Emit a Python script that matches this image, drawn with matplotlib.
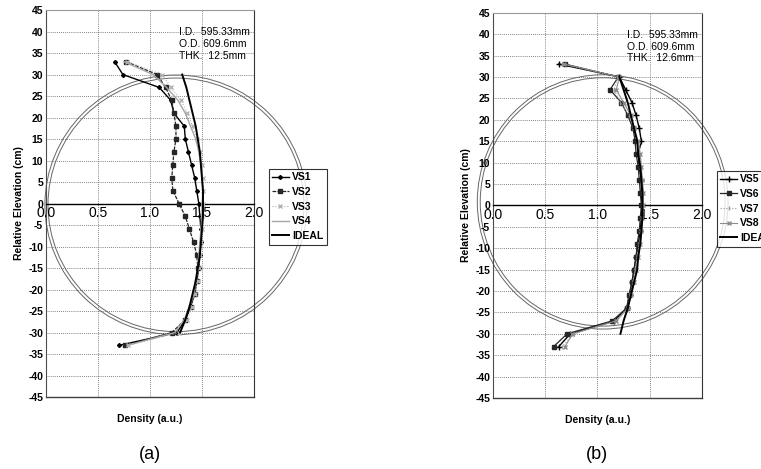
import numpy as np
import matplotlib.pyplot as plt
from matplotlib.patches import Ellipse

plt.rcParams['font.family'] = ['Liberation Sans', 'DejaVu Sans']

# elevations (cm) of the measured points, top to bottom
elev = [33, 30, 27, 24, 21, 18, 15, 12, 9, 6, 3, 0, -3, -6, -9, -12, -15, -18, -21, -24, -27, -30, -33]
elevIdeal = [30, 27, 24, 21, 18, 15, 12, 9, 6, 3, 0, -3, -6, -9, -12, -15, -18, -21, -24, -27, -30]

# panel (a)
vs1 = [0.66, 0.74, 1.09, 1.20, 1.23, 1.33, 1.34, 1.37, 1.40, 1.43, 1.45, 1.47, 1.48, 1.49, 1.49, 1.48, 1.47, 1.45, 1.43, 1.39, 1.34, 1.26, 0.70]
vs2 = [0.77, 1.07, 1.15, 1.21, 1.23, 1.25, 1.25, 1.23, 1.22, 1.21, 1.22, 1.28, 1.34, 1.38, 1.42, 1.45, 1.46, 1.45, 1.43, 1.39, 1.34, 1.21, 0.76]
vs3 = [0.78, 1.12, 1.20, 1.30, 1.36, 1.41, 1.45, 1.48, 1.50, 1.51, 1.51, 1.51, 1.50, 1.50, 1.49, 1.48, 1.47, 1.46, 1.43, 1.40, 1.36, 1.28, 0.79]
vs4 = [0.75, 1.03, 1.16, 1.27, 1.34, 1.39, 1.44, 1.47, 1.49, 1.50, 1.51, 1.50, 1.50, 1.49, 1.48, 1.47, 1.46, 1.44, 1.42, 1.38, 1.33, 1.24, 0.78]
idealA = [1.31, 1.35, 1.38, 1.41, 1.44, 1.46, 1.48, 1.49, 1.50, 1.51, 1.51, 1.51, 1.50, 1.49, 1.48, 1.46, 1.44, 1.41, 1.38, 1.34, 1.29]

# panel (b)
vs5 = [0.63, 1.21, 1.27, 1.33, 1.37, 1.40, 1.42, 1.39, 1.40, 1.42, 1.42, 1.43, 1.42, 1.41, 1.39, 1.37, 1.35, 1.33, 1.31, 1.28, 1.16, 0.74, 0.63]
vs6 = [0.69, 1.20, 1.12, 1.23, 1.29, 1.34, 1.36, 1.37, 1.39, 1.40, 1.41, 1.42, 1.41, 1.40, 1.38, 1.37, 1.35, 1.33, 1.30, 1.28, 1.14, 0.71, 0.58]
vs7 = [0.66, 1.19, 1.16, 1.22, 1.30, 1.36, 1.38, 1.40, 1.41, 1.43, 1.43, 1.44, 1.43, 1.42, 1.40, 1.38, 1.36, 1.34, 1.31, 1.29, 1.17, 0.78, 0.66]
vs8 = [0.68, 1.21, 1.18, 1.25, 1.32, 1.35, 1.39, 1.41, 1.42, 1.43, 1.44, 1.44, 1.43, 1.42, 1.41, 1.39, 1.37, 1.35, 1.32, 1.29, 1.18, 0.76, 0.69]
idealB = [1.21, 1.25, 1.29, 1.32, 1.35, 1.38, 1.39, 1.41, 1.42, 1.43, 1.43, 1.43, 1.42, 1.41, 1.39, 1.38, 1.35, 1.32, 1.29, 1.25, 1.22]

# pipe outline (outer circle in data units) and I.D./O.D. ratio
pipeA = (1.25, -0.3, 2.52, 60.4)   # center x, center y, width, height
pipeB = (1.05, 0.8, 2.40, 59.4)
innerRatio = 595.33 / 609.6

fig = plt.figure(figsize=(7.61, 4.69), dpi=100)
axA = fig.add_axes([0.0604, 0.1535, 0.2733, 0.825])
axB = fig.add_axes([0.6478, 0.1514, 0.2746, 0.8215])


def drawPanel(ax, series, names, styles, ideal, pipe, thk, tag, xc):
    ax.set_xlim(0, 2.0)
    ax.set_ylim(-45, 45)
    ax.set_xticks([0, 0.5, 1.0, 1.5, 2.0])
    ax.set_yticks(np.arange(-45, 46, 5))
    ax.set_xticklabels(['0.0', '0.5', '1.0', '1.5', '2.0'], fontsize=7.5, fontweight='bold')
    ax.set_yticklabels([str(v) for v in range(-45, 46, 5)], fontsize=7.5, fontweight='bold')
    ax.tick_params(length=0, pad=2)
    ax.grid(True, color='0.35', linestyle=(0, (1, 1.5)), linewidth=0.6)

    # x axis runs through zero, frame still closed at the bottom
    ax.spines['bottom'].set_position(('data', 0))
    ax.spines['bottom'].set_linewidth(1.0)
    ax.axhline(-45, color='0.25', lw=1.0, clip_on=False)
    ax.spines['top'].set_color('0.6')
    ax.spines['left'].set_color('0.3')
    ax.spines['right'].set_color('0.2')

    # pipe walls (inner + outer)
    cx, cy, w, h = pipe
    for scale in [1.0, innerRatio]:
        ax.add_patch(Ellipse((cx, cy), w * scale, h * scale, fill=False,
                             edgecolor='0.4', lw=0.7, clip_on=False, zorder=1))

    for vals, name, st in zip(series, names, styles):
        ax.plot(vals, elev, label=name, clip_on=False, zorder=3, **st)
    ax.plot(ideal, elevIdeal, color='black', lw=1.4, label='IDEAL', zorder=4)

    ax.text(0.64, 0.955, 'I.D.  595.33mm\nO.D. 609.6mm\nTHK.  ' + thk, transform=ax.transAxes,
            fontsize=7.5, va='top', ha='left', linespacing=1.2)
    ax.text(0.5, -0.045, 'Density (a.u.)', transform=ax.transAxes, ha='center', va='top',
            fontsize=7.5, fontweight='bold')
    ax.set_ylabel('Relative Elevation (cm)', fontsize=7.5, fontweight='bold', labelpad=3)

    leg = ax.legend(loc='upper left', bbox_to_anchor=(1.07, 0.59), fontsize=7.5,
                    frameon=True, fancybox=False, handlelength=1.6, handletextpad=0.3,
                    labelspacing=0.45, borderpad=0.35, borderaxespad=0)
    leg.get_frame().set_edgecolor('black')
    leg.get_frame().set_linewidth(0.8)
    for t in leg.get_texts():
        t.set_fontweight('bold')

    fig.text(xc, 0.03, tag, ha='center', va='center', fontsize=13)


stylesA = [dict(color='black', lw=1.0, marker='D', ms=2),
           dict(color='0.15', lw=0.9, ls=(0, (3, 1)), marker='s', ms=2.5),
           dict(color='0.7', lw=0.8, ls=':', marker='x', ms=2.5),
           dict(color='0.65', lw=1.0)]
stylesB = [dict(color='black', lw=1.0, marker='+', ms=4),
           dict(color='0.15', lw=0.9, marker='s', ms=2.5),
           dict(color='0.6', lw=0.8, ls=':', marker='|', ms=3.5),
           dict(color='0.55', lw=0.8, marker='x', ms=2.5)]

drawPanel(axA, [vs1, vs2, vs3, vs4], ['VS1', 'VS2', 'VS3', 'VS4'], stylesA, idealA, pipeA,
          '12.5mm', '(a)', 0.197)
drawPanel(axB, [vs5, vs6, vs7, vs8], ['VS5', 'VS6', 'VS7', 'VS8'], stylesB, idealB, pipeB,
          '12.6mm', '(b)', 0.785)

fig.savefig('out.png', dpi=100)
